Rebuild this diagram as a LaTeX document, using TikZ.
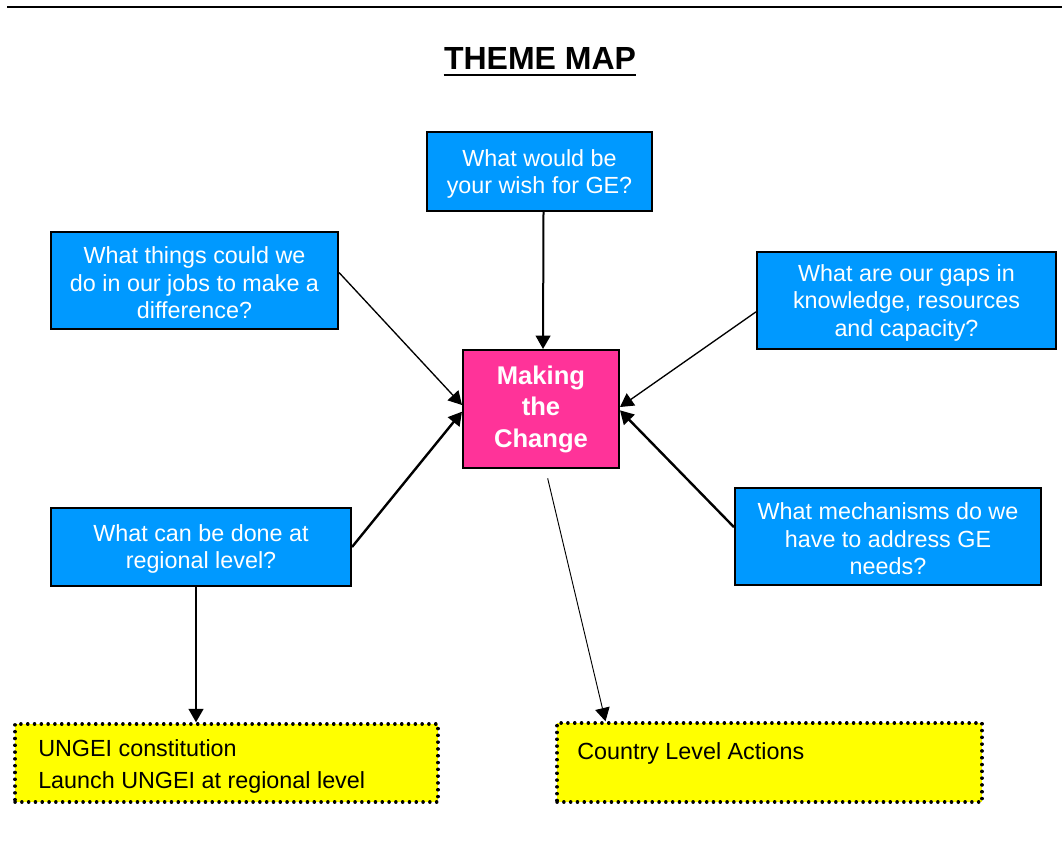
\documentclass[tikz,border=0pt]{standalone}
\usepackage{fontspec}
\setmainfont{Liberation Sans}
\usetikzlibrary{arrows.meta}
\definecolor{qblue}{HTML}{0099FF}
\definecolor{qpink}{HTML}{FF3399}
\definecolor{qyellow}{HTML}{FFFF00}

\begin{document}
\begin{tikzpicture}[x=0.75pt, y=-0.75pt,
  qbox/.style 2 args={draw, line width=1.5pt, fill=qblue, text=white, align=center,
    minimum width=#1*0.75pt, minimum height=#2*0.75pt, inner sep=0pt,
    font=\fontsize{17.5}{20.6}\selectfont},
  actbox/.style 2 args={draw, line width=2.6pt, fill=qyellow, line cap=round, dash pattern=on 0.1pt off 5pt,
    minimum width=#1*0.75pt, minimum height=#2*0.75pt, inner sep=0pt},
  tip/.style={-{Triangle[length=10pt, width=11pt]}}]
\useasboundingbox (0,0) rectangle (1062,847);
\draw[line width=1.5pt] (7,7) -- (1062,7);
% title
\node[font=\fontsize{24}{28}\selectfont\bfseries, inner sep=0pt] (title) at (540,58) {THEME MAP};
\draw[line width=1.5pt] ([yshift=-4.5pt]title.base west) -- ([yshift=-4.5pt]title.base east);

% question boxes
\node[qbox={225}{79}] (wish) at (539.5,171.5) {\rule{0pt}{16pt}What would be\\ your wish for GE?};
\node[qbox={287}{97}] (things) at (194.5,280.5) {\rule{0pt}{16pt}What things could we\\ do in our jobs to make a\\ difference?};
\node[qbox={299}{97}] (gaps) at (906.5,300.5) {\rule{0pt}{16pt}What are our gaps in\\ knowledge, resources\\ and capacity?};
\node[qbox={300}{78}] (regional) at (201,547) {\rule{0pt}{16pt}What can be done at\\ regional level?};
\node[qbox={306}{97}] (mech) at (888,536.5) {\rule{0pt}{16pt}What mechanisms do we\\ have to address GE\\ needs?};
\node[draw, line width=1.5pt, fill=qpink, text=white, align=center, inner sep=0pt,
  minimum width=156*0.75pt, minimum height=118*0.75pt,
  font=\fontsize{19.2}{23.6}\selectfont\bfseries] (making) at (541,409) {Making\\ the\\ Change};

% action boxes
\node[actbox={423}{78}] (ungei) at (226.5,763) {};
\node[anchor=west, inner sep=0pt, align=left, font=\fontsize{17.5}{24}\selectfont] (ungeitext) at (38,766)
  {UNGEI constitution\\ Launch UNGEI at regional level};
\node[actbox={425}{79}] (country) at (769.5,762.5) {};
\node[anchor=west, inner sep=0pt, font=\fontsize{17.5}{24}\selectfont] (countrytext) at (577,753) {Country Level Actions};

% arrows
\draw[tip, line width=1.5pt] ([xshift=3pt]wish.south) -- ([xshift=1.5pt]making.north);
\draw[tip, line width=1pt] ([yshift=6pt]things.east) -- ([yshift=3pt]making.west);
\draw[tip, line width=1.8pt] (regional.east) -- ([yshift=-2pt]making.west);
\draw[tip, line width=1pt] ([yshift=-8.5pt]gaps.west) -- ([yshift=1.5pt]making.east);
\draw[tip, line width=1.8pt] ([yshift=7pt]mech.west) -- ([yshift=-1pt]making.east);
\draw[tip, line width=1.5pt] ([xshift=-3.75pt]regional.south) -- ([xshift=-3.75pt]regional.south |- ungei.north);
\draw[tip, line width=0.7pt] ([xshift=5pt, yshift=-7pt]making.south) -- ([xshift=-123pt]country.north);
\end{tikzpicture}
\end{document}
